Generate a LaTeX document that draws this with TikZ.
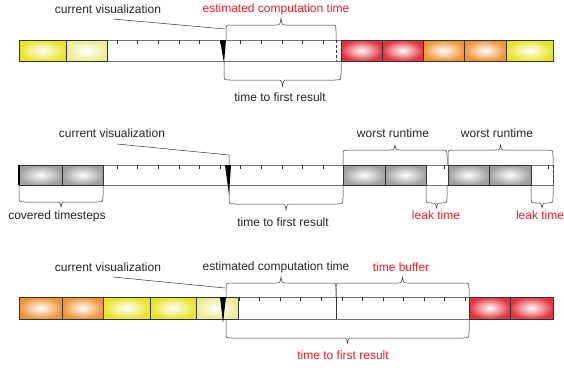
\documentclass[tikz,border=0pt]{standalone}
\usepackage{fontspec}
\setmainfont{Liberation Sans}
\definecolor{cyel}{RGB}{234,228,40}
\definecolor{clight}{RGB}{236,236,150}
\definecolor{cred}{RGB}{226,52,64}
\definecolor{corange}{RGB}{240,148,56}
\definecolor{cgray}{RGB}{160,160,160}
\definecolor{ctext}{RGB}{237,28,36}
\tikzset{
  cell/.style={draw=black!80, line width=0.6pt, inner color=white, outer color=#1},
  bar/.style={draw=black!55, line width=0.6pt},
  tick/.style={draw=black!80, line width=0.5pt},
  brc/.style={draw=black!80, line width=0.5pt},
  lbl/.style={font=\fontsize{12}{14}\selectfont, text=black!85, inner sep=1pt},
  rlbl/.style={lbl, text=ctext}
}
% brace: x1, x2, base, level, cusp
\newcommand{\tbrace}[5]{%
  \draw[brc] (#1,#3) -- (#1,{#4+6*sign(#3-#4)})
    .. controls (#1,#4) .. ({#1+6},#4) -- ({(#1+#2)/2-5},#4)
    .. controls ({(#1+#2)/2-1},#4) .. ({(#1+#2)/2},#5)
    .. controls ({(#1+#2)/2+1},#4) .. ({(#1+#2)/2+5},#4) -- ({#2-6},#4)
    .. controls (#2,#4) .. (#2,{#4+6*sign(#3-#4)}) -- (#2,#3);}
\begin{document}
\begin{tikzpicture}[x=1pt,y=-1pt]
    \useasboundingbox (0,0) rectangle (564,367);
    % Erste Zeile: Balken und Zellen
    \draw[bar] (19,40) rectangle (553,61);
    \shade[cell=cyel] (19,40) rectangle (66,61);
    \shade[cell=clight] (66,40) rectangle (107,61);
    \shade[cell=cred] (341,40) rectangle (382,61);
    \shade[cell=cred] (382,40) rectangle (423,61);
    \shade[cell=corange] (423,40) rectangle (464,61);
    \shade[cell=corange] (464,40) rectangle (506,61);
    \shade[cell=cyel] (506,40) rectangle (553,61);
    \foreach \k in {0,...,10}
      \draw[tick] ({117+20.6*\k},40) -- ++(0,4);
    \draw[tick, densely dashed] (336,40) -- (336,61);
    \fill (220,40) -- (226,40) -- (224,63) -- cycle;
    % Klammern
    \tbrace{226}{336}{40}{25}{18}
    \tbrace{224}{341}{61}{80}{86}
    % Beschriftung
    \node[lbl] (cv1) at (108,9) {current visualization};
    \node[rlbl] (est1) at (276,9) {estimated computation time};
    \node[lbl] (ttf1) at (280,97) {time to first result};
    \coordinate (p1) at (113,19);
    \coordinate (n1) at (225,29);
    \draw[brc] (p1) -- (n1);

    % Zweite Zeile: Balken und Zellen
    \draw[bar] (19,165) rectangle (553,185);
    \shade[cell=cgray] (19,165) rectangle (62,185);
    \shade[cell=cgray] (62,165) rectangle (103,185);
    \shade[cell=cgray] (343,165) rectangle (385,185);
    \shade[cell=cgray] (385,165) rectangle (426,185);
    \shade[cell=cgray] (448,165) rectangle (489,185);
    \shade[cell=cgray] (489,165) rectangle (531,185);
    \draw[black, line width=1.2pt] (19,165) -- (19,185);
    \foreach \k in {0,...,10}
      \draw[tick] ({117+20.6*\k},165) -- ++(0,4);
    \draw[tick] (444,165) -- ++(0,4);
    \draw[tick] (548,165) -- ++(0,4);
    \draw[tick, densely dashed] (103,165) -- (103,185);
    \draw[tick, densely dashed] (553,165) -- (553,185);
    \fill (225,165) -- (231,165) -- (229,195) -- cycle;
    % Klammern
    \tbrace{19}{103}{185}{202}{207}
    \tbrace{229}{343}{185}{204}{210}
    \tbrace{343}{447}{165}{150}{145}
    \tbrace{448}{553}{165}{150}{145}
    \tbrace{426}{447}{185}{203}{208}
    \tbrace{531}{553}{185}{203}{208}
    % Beschriftung
    \node[lbl] (cv2) at (112,133) {current visualization};
    \node[lbl] (cov) at (57,216) {covered timesteps};
    \node[lbl] (ttf2) at (283,222) {time to first result};
    \node[lbl] (wr1) at (393,133) {worst runtime};
    \node[lbl] (wr2) at (497,133) {worst runtime};
    \node[rlbl] (lk1) at (436,215) {leak time};
    \node[rlbl] (lk2) at (540,215) {leak time};
    \coordinate (p2) at (117,144);
    \coordinate (n2) at (229,155);
    \coordinate (t2) at (229,165);
    \draw[brc] (p2) -- (n2) -- (t2);

    % Dritte Zeile: Balken und Zellen
    \draw[bar] (19,297) rectangle (553,319);
    \shade[cell=corange] (19,297) rectangle (62,319);
    \shade[cell=corange] (62,297) rectangle (103,319);
    \shade[cell=cyel] (103,297) rectangle (150,319);
    \shade[cell=cyel] (150,297) rectangle (196,319);
    \shade[cell=clight] (196,297) rectangle (238,319);
    \shade[cell=cred] (469,297) rectangle (510,319);
    \shade[cell=cred] (510,297) rectangle (553,319);
    \foreach \k in {0,...,11}
      \draw[tick] ({239+20.55*\k},297) -- ++(0,4);
    \draw[tick, line width=0.8pt] (336,297) -- (336,319);
    \fill (220,297) -- (226,297) -- (223,323) -- cycle;
    % Klammern
    \tbrace{226}{336}{297}{283}{277}
    \tbrace{336}{469}{297}{283}{277}
    \tbrace{226}{469}{319}{338}{343}
    % Beschriftung
    \node[lbl] (cv3) at (108,267) {current visualization};
    \node[lbl] (est3) at (276,267) {estimated computation time};
    \node[rlbl] (buf) at (401,267) {time buffer};
    \node[rlbl] (ttf3) at (343,355) {time to first result};
    \coordinate (p3) at (113,277);
    \coordinate (n3) at (225,288);
    \draw[brc] (p3) -- (n3);
\end{tikzpicture}
\end{document}
